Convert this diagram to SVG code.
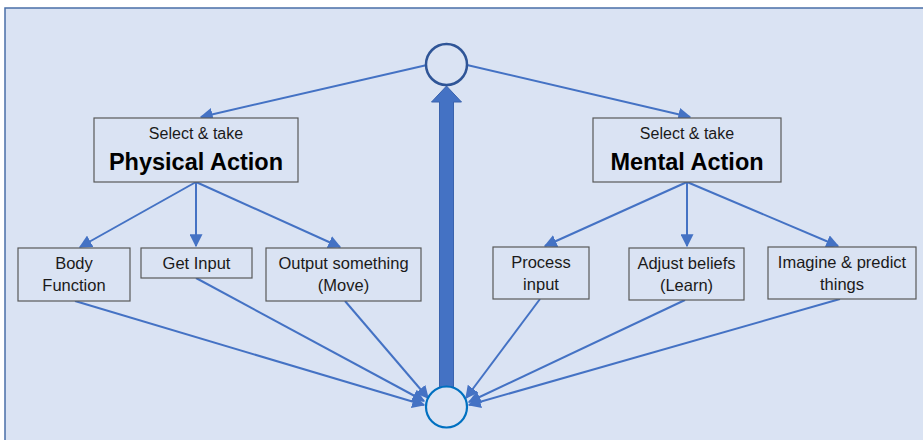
<svg xmlns="http://www.w3.org/2000/svg" width="923" height="440" viewBox="0 0 923 440">
<defs>
<style>
.box{fill:#dae3f3;stroke:#595959;stroke-width:1.2}
.t{font-family:"Liberation Sans",Arial,sans-serif;font-size:16.5px;fill:#1a1a1a;text-anchor:middle}
.s{font-family:"Liberation Sans",Arial,sans-serif;font-size:16px;fill:#1a1a1a;text-anchor:middle}
.b{font-family:"Liberation Sans",Arial,sans-serif;font-size:23.5px;font-weight:bold;fill:#000;text-anchor:middle}
.c{fill:none;stroke:#4472c4;stroke-width:2;marker-end:url(#ah)}
</style>
<marker id="ah" viewBox="0 0 10 10" refX="9" refY="5" markerWidth="6.5" markerHeight="6.5" orient="auto" markerUnits="strokeWidth">
<path d="M0,0 L10,5 L0,10 Z" fill="#4472c4"/>
</marker>
</defs>
<rect x="0" y="0" width="923" height="440" fill="#ffffff"/>
<rect x="5" y="8" width="930" height="440" fill="#dae3f3" stroke="#4a6fa8" stroke-width="1.5"/>

<g id="connectors">
<line class="c" x1="427" y1="65" x2="201" y2="117"/>
<line class="c" x1="467" y1="65" x2="690" y2="117"/>
<line class="c" x1="196" y1="182" x2="80" y2="247"/>
<line class="c" x1="196" y1="182" x2="196" y2="246"/>
<line class="c" x1="196" y1="182" x2="340" y2="247"/>
<line class="c" x1="687" y1="182" x2="545" y2="246"/>
<line class="c" x1="687" y1="182" x2="687" y2="246"/>
<line class="c" x1="687" y1="182" x2="838" y2="246"/>
<line class="c" x1="75" y1="301" x2="424" y2="405"/>
<line class="c" x1="196" y1="278" x2="424" y2="401"/>
<line class="c" x1="345" y1="301" x2="428" y2="398"/>
<line class="c" x1="540" y1="299" x2="466" y2="398"/>
<line class="c" x1="685" y1="300" x2="469" y2="402"/>
<line class="c" x1="840" y1="299" x2="469" y2="405"/>
<path d="M439.5,387 L439.5,102 L431.5,102 L446.5,86 L461.5,102 L453.5,102 L453.5,387 Z" fill="#4472c4" stroke="#3a63ad" stroke-width="1"/>
</g>

<g id="top-node"><circle cx="446.5" cy="64.5" r="20.5" fill="#dae3f3" stroke="#2f5597" stroke-width="2.5"/></g>
<g id="bottom-node"><circle cx="446.5" cy="407" r="20.5" fill="#dae3f3" stroke="#0070c0" stroke-width="2.2"/></g>

<g id="physical-action">
<rect class="box" x="94" y="118" width="204" height="64"/>
<text class="s" x="196" y="139">Select &amp; take</text>
<text class="b" x="196" y="170">Physical Action</text>
</g>
<g id="mental-action">
<rect class="box" x="593" y="118" width="188" height="64"/>
<text class="s" x="687" y="139">Select &amp; take</text>
<text class="b" x="687" y="170">Mental Action</text>
</g>

<g id="body-function">
<rect class="box" x="18" y="248" width="112" height="53"/>
<text class="t" x="74" y="269">Body</text>
<text class="t" x="74" y="291">Function</text>
</g>
<g id="get-input">
<rect class="box" x="141" y="248" width="111" height="30"/>
<text class="t" x="196.5" y="269">Get Input</text>
</g>
<g id="output-something">
<rect class="box" x="266" y="248" width="155" height="53"/>
<text class="t" x="343.5" y="269">Output something</text>
<text class="t" x="343.5" y="291">(Move)</text>
</g>
<g id="process-input">
<rect class="box" x="493" y="247" width="96" height="52"/>
<text class="t" x="541" y="268">Process</text>
<text class="t" x="541" y="290">input</text>
</g>
<g id="adjust-beliefs">
<rect class="box" x="629" y="248" width="115" height="52"/>
<text class="t" x="686.5" y="269">Adjust beliefs</text>
<text class="t" x="686.5" y="291">(Learn)</text>
</g>
<g id="imagine-predict">
<rect class="box" x="768" y="247" width="148" height="52"/>
<text class="t" x="842" y="268">Imagine &amp; predict</text>
<text class="t" x="842" y="290">things</text>
</g>
</svg>
